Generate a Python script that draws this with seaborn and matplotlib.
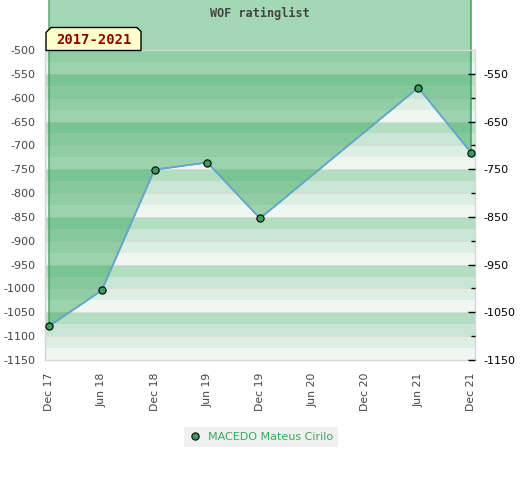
import matplotlib
matplotlib.use('Agg')
import matplotlib.pyplot as plt
import seaborn as sns
from matplotlib.lines import Line2D
from matplotlib.patches import Polygon

# values
player = 'MACEDO Mateus Cirilo'
period = '2017-2021'
title = 'WOF ratinglist'
months = [0, 6, 12, 18, 24, 42, 48]          # months after Dec 2017
ratings = [-1079, -1004, -751, -736, -853, -579, -715]
tick_months = [0, 6, 12, 18, 24, 30, 36, 42, 48]
tick_labels = ['Dec 17', 'Jun 18', 'Dec 18', 'Jun 19', 'Dec 19',
               'Jun 20', 'Dec 20', 'Jun 21', 'Dec 21']
left_ticks = list(range(-1150, -499, 50))
right_ticks = list(range(-1150, -549, 100))
right_minor = list(range(-1100, -549, 100))

band_colors = ['#dcefe2', '#f0f7f2', '#b3dec2', '#c9e6d4']
fill_green = '#28a050'
line_blue = '#68a6da'
dot_green = '#3a9d5d'

sns.set_style('white')
plt.rcParams['axes.unicode_minus'] = False
W, H = 520, 480
fig = plt.figure(figsize=(W / 100, H / 100), dpi=100)
ax = fig.add_axes([45 / W, 1 - 360 / H, 430 / W, 310 / H])
ax.set_xlim(-0.46, 48.46)
ax.set_ylim(-1150, -500)

# striped background
for k in range(26):
    hi = -500 - 25 * k
    ax.axhspan(hi - 25, hi, color=band_colors[k % 4], lw=0, zorder=0.1)
ax.set_axisbelow(True)
ax.grid(axis='y', color='#dcdcdc', lw=0.8)
ax.grid(axis='x', visible=False)

# area above the line, reaching past the top of the figure
y_top = ax.transData.inverted().transform(fig.transFigure.transform((0, 1)))[1] + 10
ax.fill_between(months, ratings, y_top, facecolor=fill_green, alpha=0.42,
                lw=0, zorder=1, clip_on=False)
ax.fill_between(months, ratings, y_top, facecolor='none', edgecolor='#3c9c5c',
                lw=1, zorder=1.1, clip_on=False)

sns.lineplot(x=months, y=ratings, ax=ax, color=line_blue, lw=1.2, marker='o',
             markersize=5.2, markerfacecolor=dot_green, markeredgecolor='black',
             markeredgewidth=0.8, zorder=3, clip_on=False)
ax.set_xlabel('')
ax.set_ylabel('')

ax.set_xticks(tick_months)
ax.set_xticklabels(tick_labels, rotation=90)
ax.set_yticks(left_ticks)
ax.tick_params(axis='x', length=0, pad=9, labelsize=7.8, labelcolor='#444444')
ax.tick_params(axis='y', length=0, pad=7, labelsize=8, labelcolor='#444444')
for s in ax.spines.values():
    s.set_color('#d6d6d6')
    s.set_linewidth(1)

ax2 = ax.twinx()
ax2.set_ylim(ax.get_ylim())
ax2.set_yticks(right_ticks)
ax2.set_yticks(right_minor, minor=True)
ax2.tick_params(axis='y', which='major', direction='in', length=5, width=1,
                color='black', pad=6, labelsize=8, labelcolor='black')
ax2.tick_params(axis='y', which='minor', direction='in', length=3, width=1,
                color='black')
for s in ax2.spines.values():
    s.set_visible(False)

# title and period tag
fig.text(0.5, 1 - 13 / H, title, ha='center', va='center',
         family='DejaVu Sans Mono', weight='bold', fontsize=8.5, color='#444444')
tag = [(46, 50.5), (46, 32.5), (51, 27.5), (137, 27.5), (141, 31.5), (141, 50.5)]
fig.patches.append(Polygon([(x / W, 1 - y / H) for x, y in tag], closed=True,
                           facecolor='#ffffcc', edgecolor='black', lw=1,
                           transform=fig.transFigure, zorder=5))
fig.text(93.5 / W, 1 - 40.5 / H, period, ha='center', va='center',
         family='DejaVu Sans Mono', weight='bold', fontsize=10,
         color='#8b0000', zorder=6)

handle = Line2D([], [], marker='o', ls='none', markersize=5.2,
                markerfacecolor=dot_green, markeredgecolor='black',
                markeredgewidth=0.8)
fig.legend(handles=[handle], labels=[player], loc='center',
           bbox_to_anchor=(261 / W, 1 - 436.5 / H), frameon=True,
           facecolor='#f0f0f0', edgecolor='none', fancybox=False,
           framealpha=1, labelcolor='#3aa85c', fontsize=8, handlelength=1,
           handletextpad=0.7, borderpad=0.45)

fig.savefig('out.png', dpi=100)
